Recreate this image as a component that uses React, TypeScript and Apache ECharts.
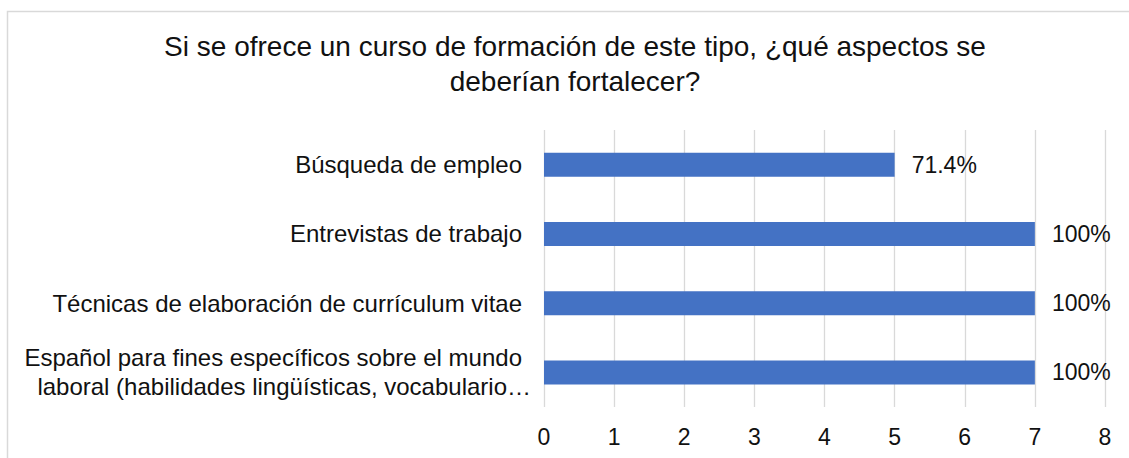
import React, { useEffect, useRef } from "react";
import * as echarts from "echarts";

const titleText = "Si se ofrece un curso de formación de este tipo, ¿qué aspectos se\ndeberían fortalecer?";
const categories = [
  "Búsqueda de empleo",
  "Entrevistas de trabajo",
  "Técnicas de elaboración de currículum vitae",
  "Español para fines específicos sobre el mundo\nlaboral (habilidades lingüísticas, vocabulario…",
];
const values = [5, 7, 7, 7];
const valueLabels = ["71.4%", "100%", "100%", "100%"];
const xTicks = [0, 1, 2, 3, 4, 5, 6, 7, 8];

const FONT = "'Liberation Sans', Arial, Helvetica, sans-serif";
const TEXT = "#111111";

export default function App() {
  const ref = useRef<HTMLDivElement>(null);
  useEffect(() => {
    if (!ref.current) return;
    const chart = echarts.init(ref.current, null, { renderer: "svg" });
    chart.setOption({
      animation: false,
      backgroundColor: "#ffffff",
      textStyle: { fontFamily: FONT },
      title: {
        text: titleText,
        left: 575,
        top: 29,
        textAlign: "center",
        padding: 0,
        textStyle: {
          fontFamily: FONT,
          fontSize: 28,
          fontWeight: "normal",
          color: TEXT,
          lineHeight: 35,
        },
      },
      graphic: [
        {
          type: "rect",
          shape: { x: 7.5, y: 11.5, width: 1300, height: 600 },
          style: { fill: "none", stroke: "#d9d9d9", lineWidth: 1.5 },
          silent: true,
        },
      ],
      grid: { left: 544, right: 24, top: 130, bottom: 51, containLabel: false },
      xAxis: {
        type: "value",
        min: xTicks[0],
        max: xTicks[xTicks.length - 1],
        interval: 1,
        axisLine: { show: false },
        axisTick: { show: false },
        splitLine: { show: true, lineStyle: { color: "#d9d9d9", width: 1.3 } },
        axisLabel: {
          fontFamily: FONT,
          fontSize: 23,
          lineHeight: 24,
          color: TEXT,
          margin: 18,
        },
      },
      yAxis: {
        type: "category",
        data: categories,
        inverse: true,
        axisLine: { show: false },
        axisTick: { show: false },
        splitLine: { show: false },
        axisLabel: {
          fontFamily: FONT,
          fontSize: 24,
          lineHeight: 29,
          color: TEXT,
          margin: 13,
          align: "right",
          formatter: (v: string) => {
            const lines = v.split("\n");
            return lines
              .map((l, i) => (i === lines.length - 1 && lines.length > 1 ? `{b|${l}}` : `{a|${l}}`))
              .join("\n");
          },
          rich: {
            a: { fontFamily: FONT, fontSize: 24, lineHeight: 29, color: TEXT, padding: [0, 9, 0, 0] },
            b: { fontFamily: FONT, fontSize: 24, lineHeight: 29, color: TEXT },
          },
        },
      },
      series: [
        {
          type: "bar",
          data: values,
          barWidth: 24,
          itemStyle: { color: "#4472C4" },
          label: {
            show: true,
            position: "right",
            distance: 17,
            fontFamily: FONT,
            fontSize: 23,
            color: TEXT,
            formatter: (p: any) => valueLabels[p.dataIndex],
          },
        },
      ],
    });
    return () => chart.dispose();
  }, []);
  return (
    <div
      ref={ref}
      style={{ position: "fixed", left: 0, top: 0, width: 1129, height: 458, background: "#fff" }}
    />
  );
}
